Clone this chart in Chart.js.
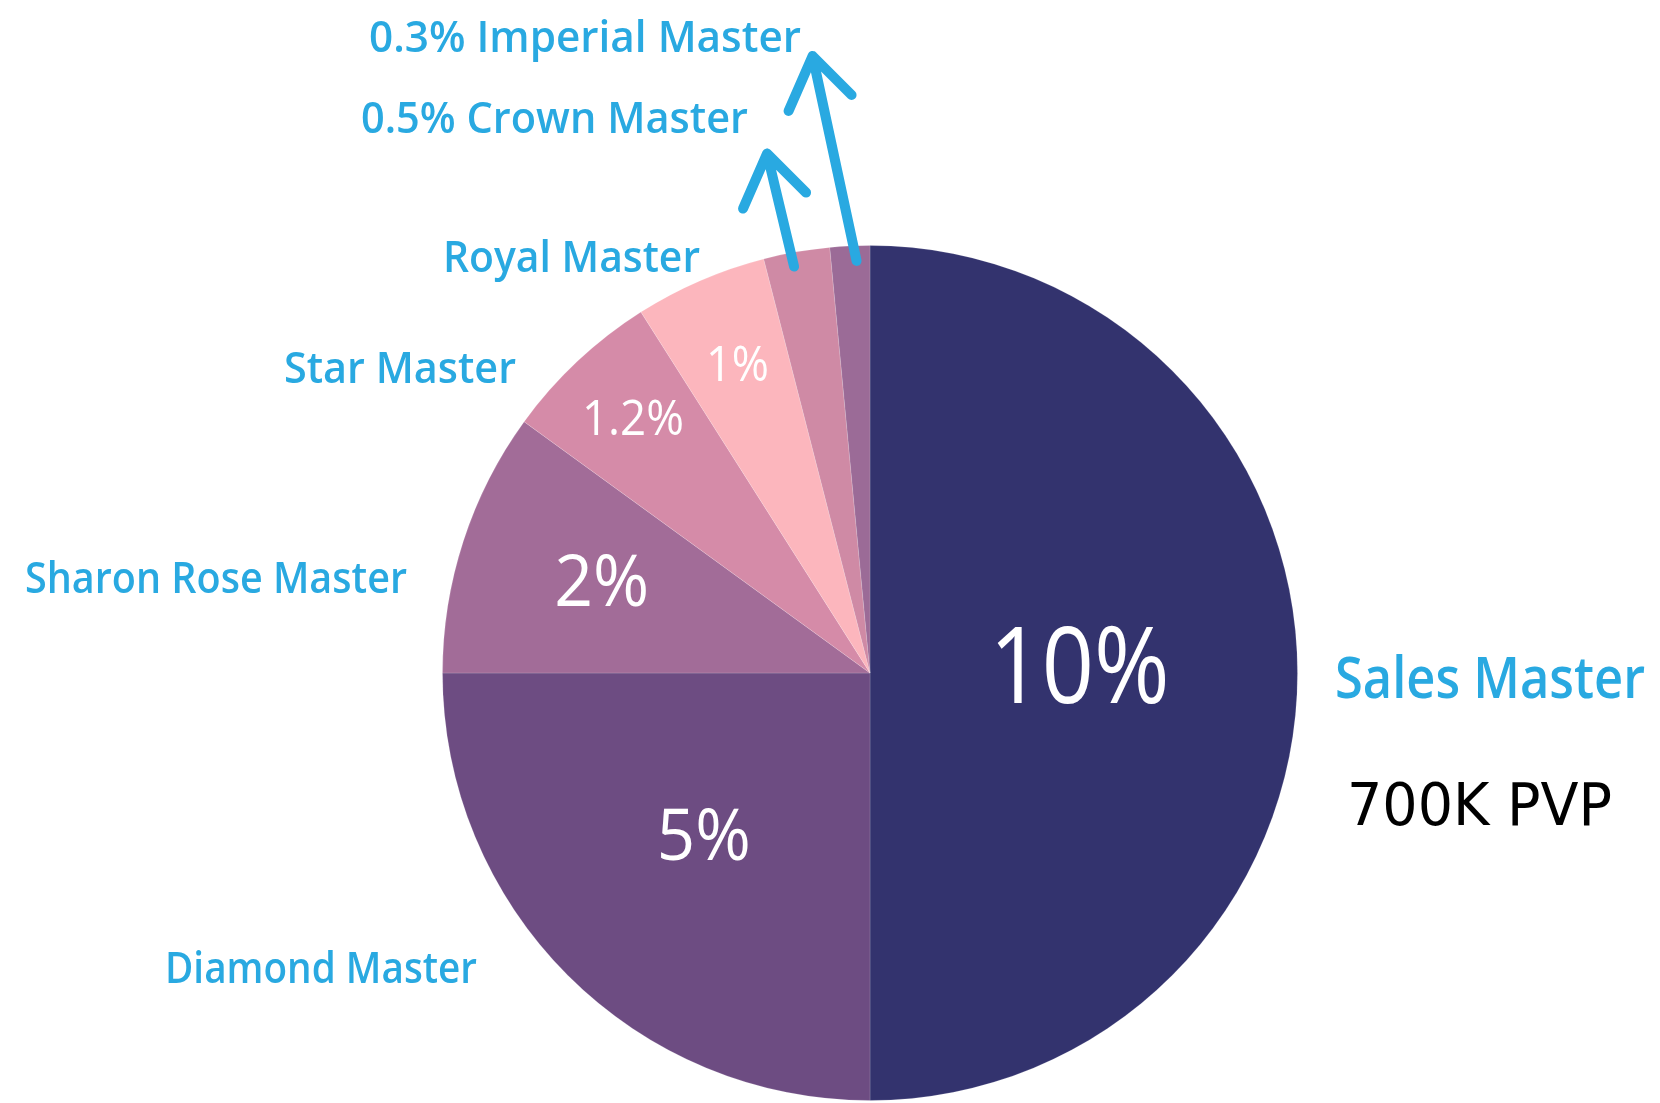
<!DOCTYPE html>
<html>
<head>
<meta charset="utf-8">
<script src="https://cdn.jsdelivr.net/npm/chart.js@4.4.0/dist/chart.umd.min.js"></script>
<style>
  body { margin: 0; background: #ffffff; }
  #wrap { width: 1660px; height: 1103px; position: relative; }
</style>
</head>
<body>
<div id="wrap"><canvas id="myChart" width="1660" height="1103"></canvas></div>
<script>
// data
var levels = ['Sales Master', 'Diamond Master', 'Sharon Rose Master', 'Star Master', 'Royal Master', 'Crown Master', 'Imperial Master'];
var shares = [10, 5, 2, 1.2, 1, 0.5, 0.3];
var shareLabels = ['10%', '5%', '2%', '1.2%', '1%', '0.5%', '0.3%'];
var salesNote = '700K PVP';

var sliceColors = ['#33336e', '#6d4c82', '#a26c98', '#d58ba8', '#fcb6bd', '#cf8aa5', '#9b6b97'];
var cyan = '#29a9e1';
var font = '"Open Sans", "Noto Sans", sans-serif';

// in-slice text: radius fraction, font size, max width (null = no inner label)
var innerStyle = [
    { r: 0.49, size: 106, w: 180 },
    { r: 0.55, size: 72, w: 94 },
    { r: 0.66, size: 72, w: 95 },
    { r: 0.81, size: 49, w: 102 },
    { r: 0.78, size: 49, w: 63 },
    null,
    null
];

// outer names: offsets from pie centre, baseline, left aligned
var outerStyle = [
    { dx: 465, dy: 25, size: 57, w: 310, text: function (i) { return levels[i]; } },
    { dx: -705, dy: 310, size: 44, w: 312, text: function (i) { return levels[i]; } },
    { dx: -845, dy: -80, size: 44, w: 382, text: function (i) { return levels[i]; } },
    { dx: -586, dy: -290, size: 44, w: 232, text: function (i) { return levels[i]; } },
    { dx: -427, dy: -401, size: 44, w: 257, text: function (i) { return levels[i]; } },
    { dx: -509, dy: -540, size: 44, w: 387, text: function (i) { return shareLabels[i] + ' ' + levels[i]; } },
    { dx: -501, dy: -621, size: 44, w: 432, text: function (i) { return shareLabels[i] + ' ' + levels[i]; } }
];

// arrows for the two thin slices: start shift and tip offset from start
var arrowStyle = {
    5: { sx: -5, tx: -27, ty: -113 },
    6: { sx: 6, tx: -44, ty: -205 }
};

var labelPlugin = {
    id: 'pieLabels',
    afterDatasetsDraw: function (chart) {
        var c = chart.ctx;
        var meta = chart.getDatasetMeta(0);
        var cx = meta.data[0].x, cy = meta.data[0].y;
        c.save();

        meta.data.forEach(function (arc, i) {
            var mid = (arc.startAngle + arc.endAngle) / 2;
            var R = arc.outerRadius;

            var st = innerStyle[i];
            if (st) {
                c.font = st.size + 'px ' + font;
                c.fillStyle = '#ffffff';
                c.textAlign = 'center';
                c.textBaseline = 'middle';
                c.fillText(shareLabels[i], cx + Math.cos(mid) * R * st.r, cy + Math.sin(mid) * R * st.r, st.w);
            }

            var o = outerStyle[i];
            c.font = '600 ' + o.size + 'px ' + font;
            c.fillStyle = cyan;
            c.textAlign = 'left';
            c.textBaseline = 'alphabetic';
            c.fillText(o.text(i), cx + o.dx, cy + o.dy, o.w);

            var a = arrowStyle[i];
            if (a) {
                var sx = cx + Math.cos(mid) * R * 0.965 + a.sx;
                var sy = cy + Math.sin(mid) * R * 0.965;
                var tx = sx + a.tx, ty = sy + a.ty;
                c.strokeStyle = cyan;
                c.lineWidth = 10;
                c.lineCap = 'round';
                c.lineJoin = 'round';
                c.beginPath();
                c.moveTo(sx, sy);
                c.lineTo(tx, ty);
                c.moveTo(tx - 24, ty + 55);
                c.lineTo(tx, ty);
                c.lineTo(tx + 39, ty + 39);
                c.stroke();
            }
        });

        // note under Sales Master
        c.font = '59px "DejaVu Sans", sans-serif';
        c.fillStyle = '#000000';
        c.textAlign = 'left';
        c.textBaseline = 'alphabetic';
        c.fillText(salesNote, cx + 477, cy + 152, 265);

        c.restore();
    }
};

var ctx = document.getElementById('myChart').getContext('2d');
var myPieChart = new Chart(ctx, {
    type: 'pie',
    data: {
        labels: levels,
        datasets: [
            {
                data: shares,
                backgroundColor: sliceColors,
                borderColor: 'rgba(255, 255, 255, 0.15)',
                borderWidth: 1,
                hoverOffset: 0
            }
        ]
    },
    options: {
        responsive: false,
        animation: false,
        events: [],
        layout: {
            padding: {
                left: 442,
                right: 362,
                top: 245,
                bottom: 2
            }
        },
        plugins: {
            legend: { display: false },
            tooltip: { enabled: false }
        }
    },
    plugins: [labelPlugin]
});
</script>
</body>
</html>
